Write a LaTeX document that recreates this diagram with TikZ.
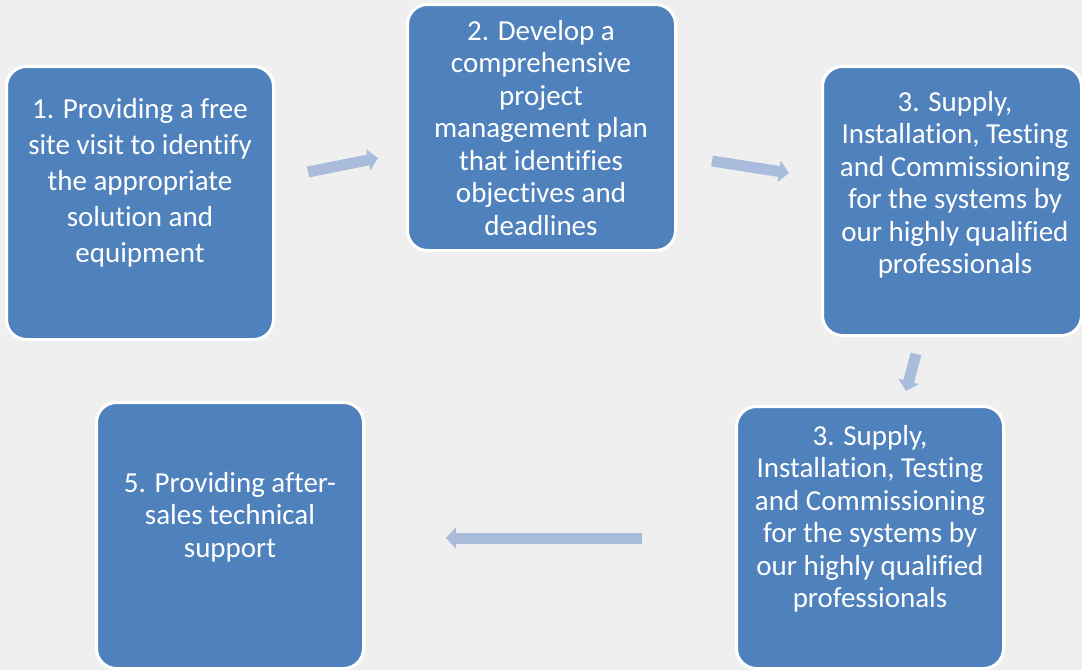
\documentclass[tikz,border=0pt]{standalone}
\usepackage{fontspec}
\setmainfont{Carlito}[Ligatures=NoCommon]
\usetikzlibrary{arrows.meta}
\definecolor{boxblue}{HTML}{4F81BD}
\definecolor{arrowblue}{HTML}{A9BCDC}
\definecolor{paper}{HTML}{EFEFEF}

\begin{document}
\begin{tikzpicture}[x=1pt,y=-1pt,
    stepbox/.style={fill=boxblue,draw=white,line width=3pt,rounded corners=20pt,inner sep=0pt},
    steptext/.style={text=white,align=center,inner sep=0pt,font=\fontsize{29}{32.5}\selectfont},
    flow/.style={draw=arrowblue,line width=11pt,-{Triangle[length=10pt,width=21pt]}}]
    \useasboundingbox (0,0) rectangle (1082,670);
    \fill[paper] (0,0) rectangle (1082,670);
    %%
    \node[stepbox,minimum width=267pt,minimum height=273pt] (b1) at (140,203) {};
    \node[stepbox,minimum width=268pt,minimum height=246pt] (b2) at (541.5,127.5) {};
    \node[stepbox,minimum width=259pt,minimum height=269pt] (b3) at (952,201) {};
    \node[stepbox,minimum width=267pt,minimum height=262pt] (b4) at (870,537.5) {};
    \node[stepbox,minimum width=267pt,minimum height=266pt] (b5) at (230,535.5) {};
    %%
    \node[steptext,font=\fontsize{29}{36}\selectfont] (t1) at (140,183) {1. Providing a free\\site visit to identify\\the appropriate\\solution and\\equipment};
    \node[steptext] (t2) at (541,128) {2. Develop a\\comprehensive\\project\\management plan\\that identifies\\objectives and\\deadlines};
    \node[steptext] (t3) at (955,185) {3. Supply,\\Installation, Testing\\and Commissioning\\for the systems by\\our highly qualified\\professionals};
    \node[steptext] (t4) at (870,519) {3. Supply,\\Installation, Testing\\and Commissioning\\for the systems by\\our highly qualified\\professionals};
    \node[steptext] (t5) at (230,517) {5. Providing after-\\sales technical\\support};
    %%
    \coordinate (a1s) at (308,172); \coordinate (a1e) at (378,158);
    \coordinate (a2s) at (712,161); \coordinate (a2e) at (789,173);
    \coordinate (a3s) at (916,354); \coordinate (a3e) at (906,391);
    \coordinate (a4s) at (642,538); \coordinate (a4e) at (446,538);
    \draw[flow] (a1s) -- (a1e);
    \draw[flow] (a2s) -- (a2e);
    \draw[flow] (a3s) -- (a3e);
    \draw[flow] (a4s) -- (a4e);
\end{tikzpicture}
\end{document}
